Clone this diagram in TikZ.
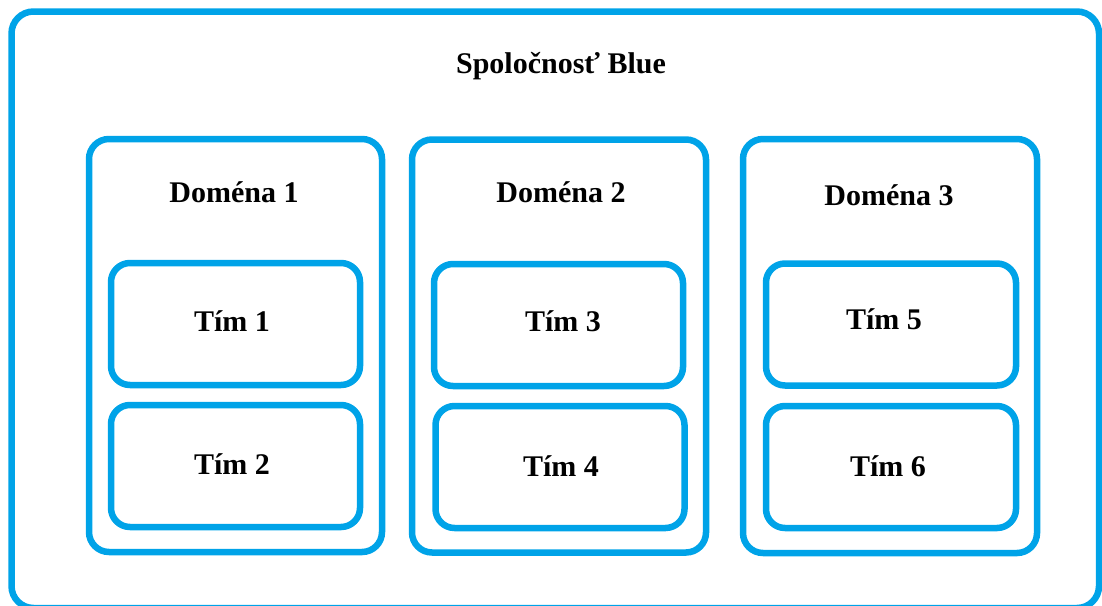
\documentclass[tikz,border=0pt]{standalone}
\usepackage{fontspec}
\setmainfont{Liberation Serif}
\definecolor{boxblue}{RGB}{0,163,232}
\begin{document}
\begin{tikzpicture}[x=1pt,y=-1pt,
  box/.style={draw=boxblue, line width=6.5pt, rounded corners=#1, inner sep=0pt, outer sep=0pt},
  box/.default=19pt,
  lbl/.style={font=\fontsize{30}{34}\selectfont\bfseries, anchor=base, inner sep=0pt}]
\useasboundingbox (0,0) rectangle (1102,605);
\node[box=22pt, minimum width=1087.5pt, minimum height=596.5pt] (company) at (555.25,309.75) {};
\node[lbl] (companylbl) at (561,73) {Spoločnosť Blue};
% domains
\node[box=20pt, minimum width=293pt, minimum height=413pt] (d1) at (235.5,345.5) {};
\node[box=20pt, minimum width=294pt, minimum height=413pt] (d2) at (559,346) {};
\node[box=20pt, minimum width=294pt, minimum height=414pt] (d3) at (890,346) {};
\node[lbl] (d1lbl) at (234,202) {Doména 1};
\node[lbl] (d2lbl) at (561,202) {Doména 2};
\node[lbl] (d3lbl) at (889,205) {Doména 3};
% teams
\node[box, minimum width=249pt, minimum height=122pt] (t1) at (235.5,324) {};
\node[box, minimum width=249pt, minimum height=122pt] (t2) at (235.5,466) {};
\node[box, minimum width=249pt, minimum height=122pt] (t3) at (558.5,325) {};
\node[box, minimum width=249pt, minimum height=122pt] (t4) at (560,467) {};
\node[box, minimum width=250pt, minimum height=122pt] (t5) at (891,324.5) {};
\node[box, minimum width=250pt, minimum height=122pt] (t6) at (891,467) {};
\node[lbl] (t1lbl) at (232,331) {Tím 1};
\node[lbl] (t2lbl) at (232,474) {Tím 2};
\node[lbl] (t3lbl) at (563,331) {Tím 3};
\node[lbl] (t4lbl) at (561,476) {Tím 4};
\node[lbl] (t5lbl) at (884,329) {Tím 5};
\node[lbl] (t6lbl) at (888,476) {Tím 6};
\end{tikzpicture}
\end{document}
